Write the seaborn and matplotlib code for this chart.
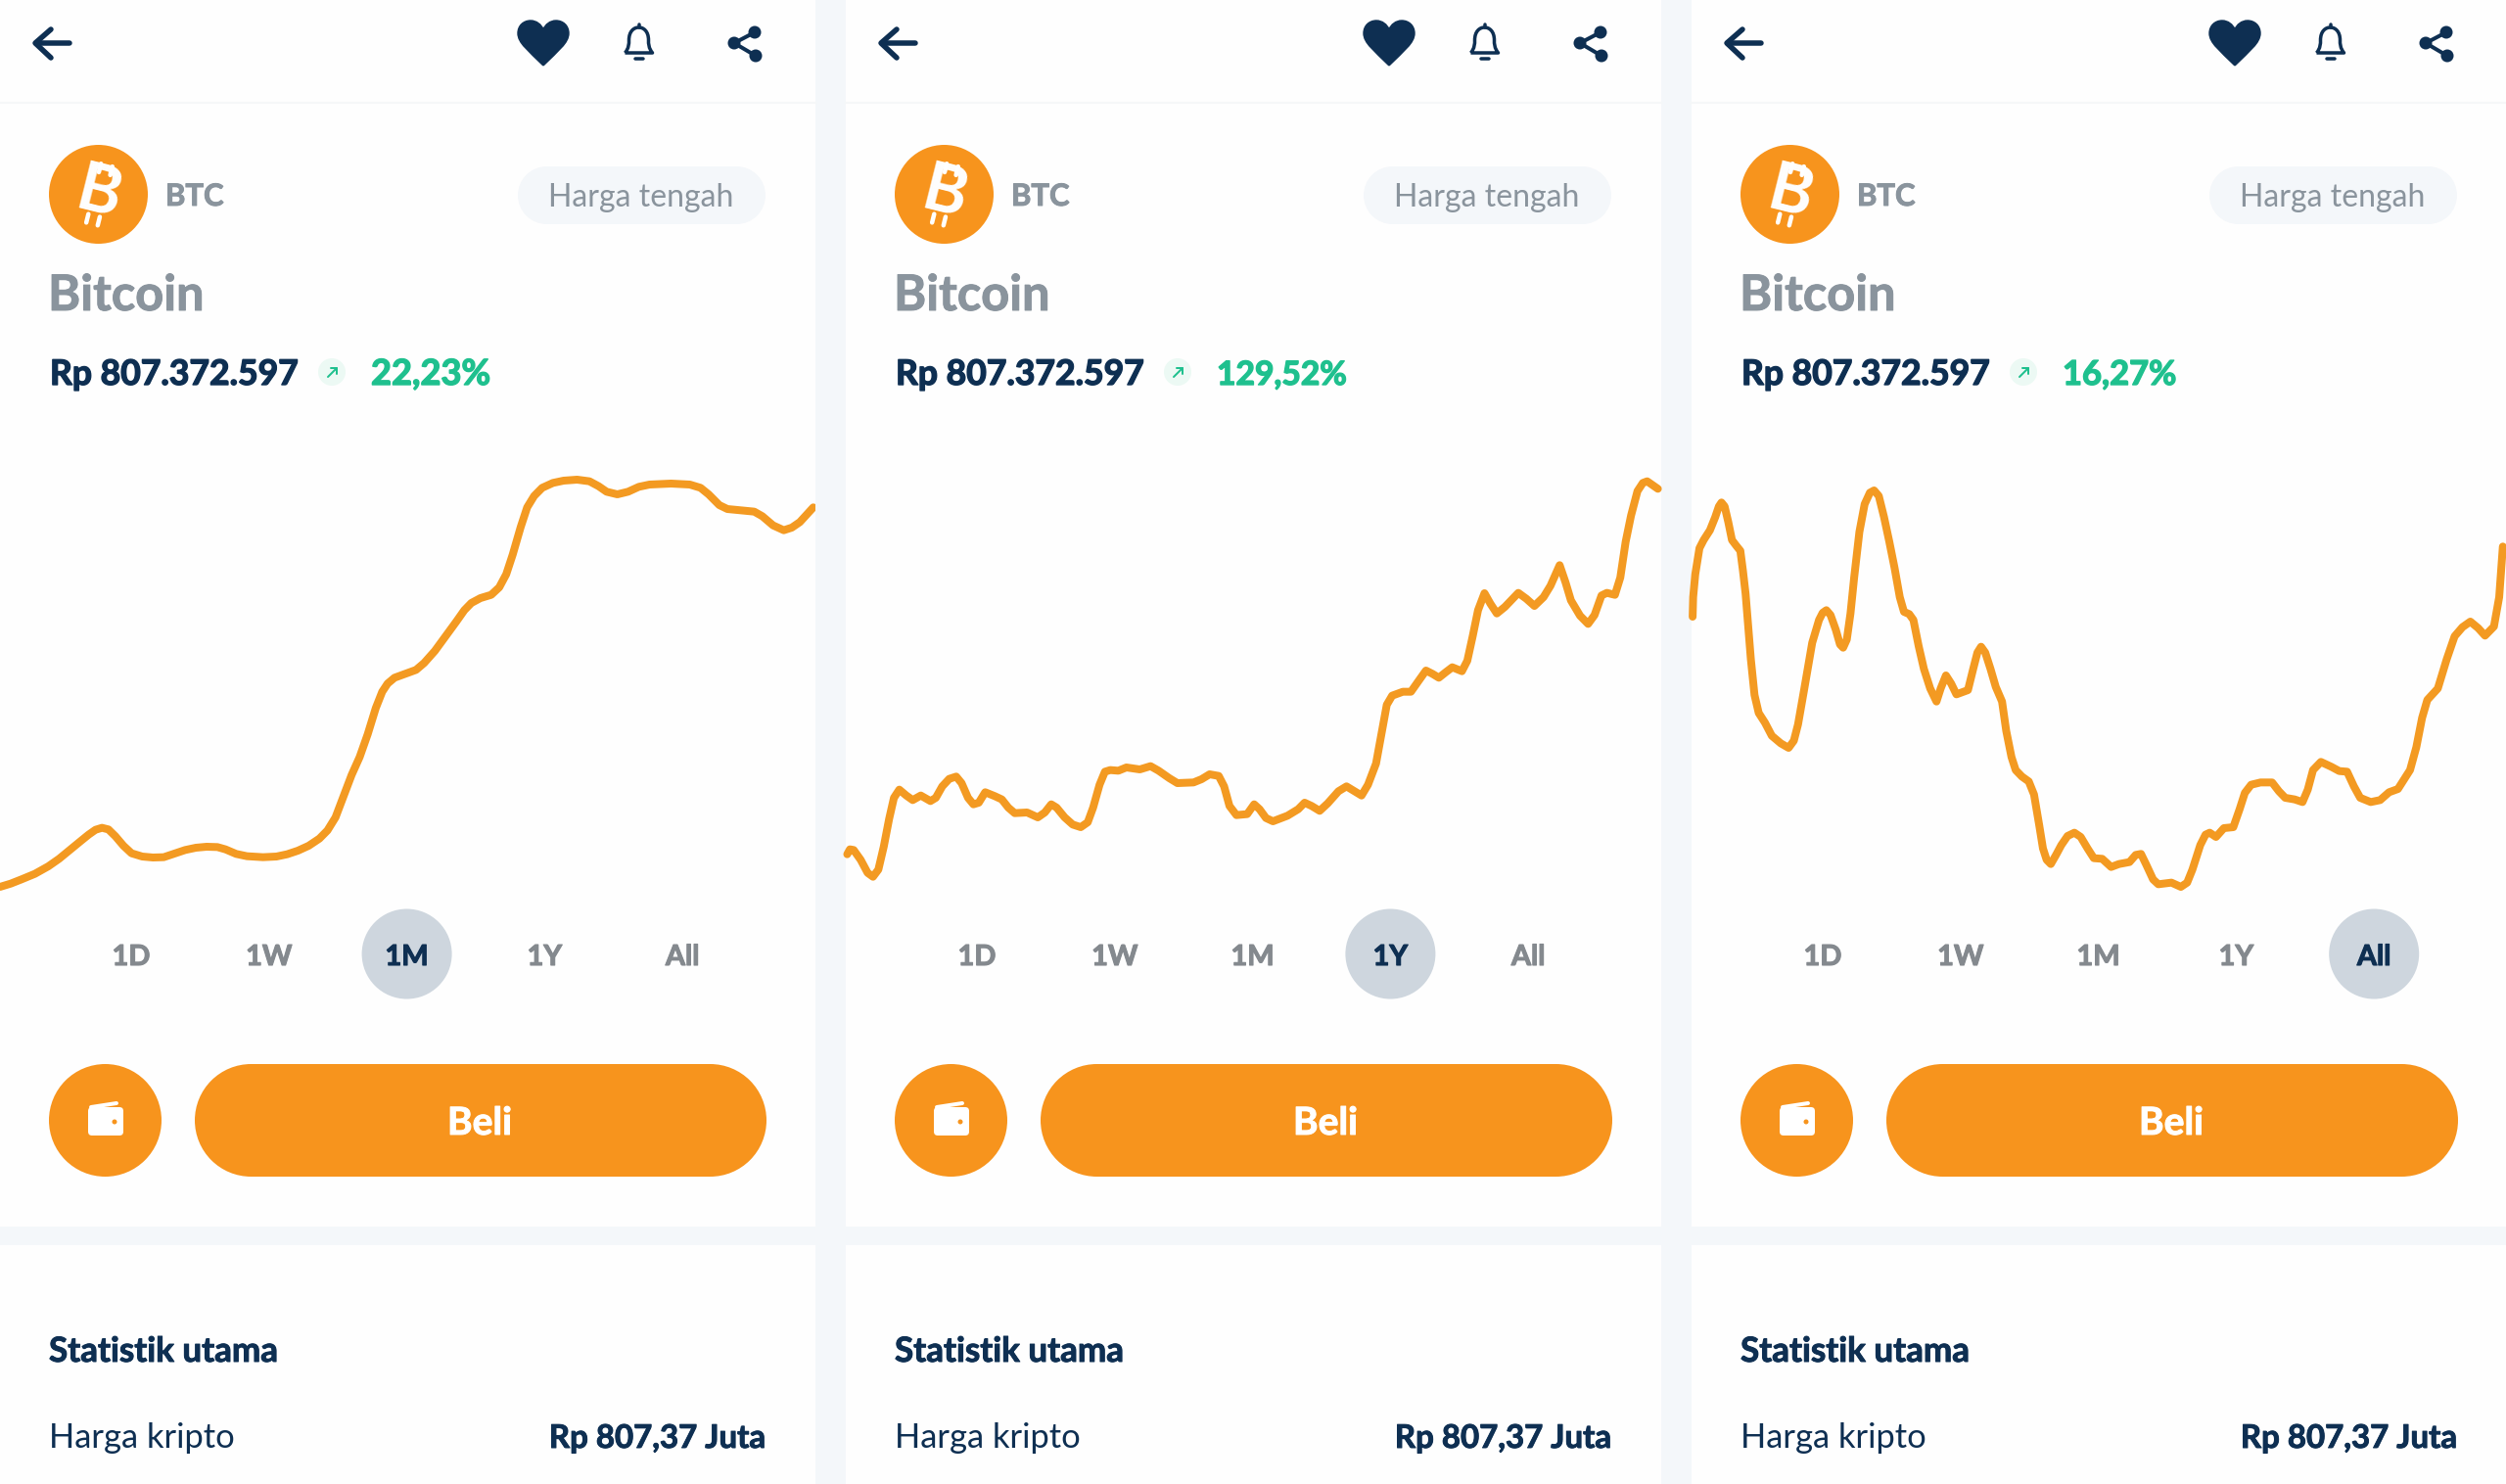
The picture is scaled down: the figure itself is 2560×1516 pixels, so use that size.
import matplotlib
matplotlib.use("Agg")
import matplotlib.pyplot as plt
import numpy as np
import pandas as pd
import seaborn as sns
import matplotlib.patheffects as pe
from matplotlib.patches import Circle, FancyBboxPatch, PathPatch, Rectangle
from matplotlib.path import Path

# x = time step, y = height on the chart
x_1m = [0, 20, 40, 65, 90, 110, 130, 150, 165, 178, 190, 202, 215, 230, 245, 265, 285, 305, 325, 345, 365, 385, 405, 420, 440,
        460, 490, 515, 535, 555, 575, 595, 610, 625, 640, 655, 670, 685, 700, 712, 722, 735, 755, 775, 790, 810, 830, 850, 865, 878,
        895, 915, 930, 943, 955, 970, 982, 995, 1010, 1030, 1050, 1075, 1098, 1115, 1130, 1150, 1170, 1190, 1210, 1250,
        1285, 1305, 1320, 1340, 1355, 1380, 1405, 1420, 1440, 1460, 1475, 1490, 1515]
y_1m = [102, 112, 125, 142, 165, 188, 215, 242, 262, 277, 283, 278, 257, 228, 205, 195, 192, 193, 204, 215, 222, 225, 224, 217, 203,
        196, 193, 195, 202, 213, 228, 250, 275, 315, 380, 445, 500, 570, 650, 700, 725, 743, 755, 767, 788, 825, 870, 915, 950, 972,
        987, 997, 1020, 1060, 1120, 1205, 1265, 1300, 1325, 1340, 1347, 1350, 1345, 1330, 1313, 1305, 1313, 1328, 1335, 1338,
        1335, 1325, 1305, 1272, 1260, 1256, 1252, 1238, 1210, 1195, 1203, 1220, 1265]

x_1y = [10, 15, 22, 35, 48, 58, 68, 78, 88, 97,
        107, 120, 132, 147, 165, 175, 187, 200, 213, 223,
        235, 245, 255, 267, 285, 298, 310, 322, 345, 365,
        378, 390, 400, 415, 430, 445, 458, 468, 480, 490,
        500, 515, 530, 555, 575, 590, 610, 625, 655, 670,
        685, 702, 712, 722, 735, 755, 768, 778, 790, 803,
        830, 850, 862, 875, 890, 905, 925, 940, 955, 968,
        980, 995, 1005, 1015, 1025, 1045, 1060, 1075, 1088, 1100,
        1112, 1125, 1137, 1155, 1165, 1175, 1185, 1197, 1208, 1220,
        1235, 1260, 1275, 1290, 1307, 1320, 1337, 1348, 1358, 1375,
        1390, 1402, 1415, 1425, 1440, 1450, 1460, 1470, 1482, 1492,
        1500, 1520]
y_1y = [202, 217, 215, 185, 145, 133, 155, 225, 310, 375,
        400, 382, 368, 382, 365, 375, 410, 433, 440, 420,
        375, 355, 360, 392, 380, 370, 345, 328, 330, 315,
        330, 355, 345, 315, 293, 285, 300, 345, 415, 455,
        460, 458, 468, 462, 472, 458, 435, 420, 422, 432,
        447, 442, 410, 350, 322, 325, 355, 340, 313, 303,
        320, 340, 360, 350, 335, 358, 395, 410, 395, 382,
        415, 480, 570, 660, 688, 700, 700, 735, 765, 755,
        743, 760, 775, 763, 795, 870, 950, 1002, 970, 940,
        960, 1003, 985, 963, 990, 1025, 1088, 1035, 980, 933,
        908, 935, 995, 1003, 997, 1050, 1160, 1240, 1315, 1340,
        1345, 1322]

x_all = [17, 18, 22, 30, 38, 50, 60, 67, 72, 78, 85, 92, 100, 108, 113, 118, 128, 135, 143, 155, 168, 185, 200, 210, 218,
         230, 245, 258, 265, 272, 280, 290, 298, 304, 311, 318, 325, 335, 345, 355, 363, 372, 382, 392, 402, 412, 420, 430,
         438, 448, 458, 470, 482, 490, 500, 510, 520, 542, 552, 560, 567, 575, 585, 595, 607, 615, 625, 633, 645, 658, 668,
         678, 685, 692, 700, 710, 720, 732, 745, 757, 770, 782, 798, 815, 830, 850, 862, 872, 882, 895, 905, 930, 948, 960,
         970, 985, 995, 1003, 1015, 1030, 1048, 1060, 1070, 1082, 1100, 1122, 1135, 1147, 1165, 1180, 1190, 1200, 1215, 1235,
         1250, 1265, 1278, 1290, 1310, 1328, 1345, 1362, 1385, 1397, 1408, 1418, 1438, 1455, 1470, 1485, 1500, 1515, 1528,
         1545, 1555, 1562]
y_all = [930, 990, 1060, 1140, 1165, 1195, 1235, 1268, 1280, 1268, 1220, 1165, 1148, 1132, 1070, 1000, 800, 690, 635, 605, 565, 542, 528, 550, 600,
         710, 850, 920, 942, 950, 935, 890, 845, 835, 860, 940, 1050, 1190, 1275, 1310, 1317, 1300, 1235, 1160, 1080, 990, 945, 938,
         920, 840, 770, 710, 670, 710, 750, 725, 692, 705, 770, 820, 838, 820, 770, 715, 670, 580, 500, 460, 440, 425, 385,
         290, 220, 185, 172, 200, 230, 258, 268, 255, 220, 190, 188, 163, 172, 178, 200, 203, 170, 125, 110, 115, 102, 115,
         155, 230, 262, 268, 255, 282, 285, 340, 390, 415, 422, 422, 395, 375, 370, 362, 400, 460, 485, 470,
         457, 455, 410, 375, 362, 368, 392, 402, 460, 530, 620, 675, 710, 800, 870, 898, 915, 895, 872,
         900, 990, 1145]

series_x = [x_1m, x_1y, x_all]
series_y = [y_1m, y_1y, y_all]
changes = ["22,23%", "129,52%", "16,27%"]
active_range = ["1M", "1Y", "All"]
ranges = ["1D", "1W", "1M", "1Y", "All"]
coin = "BTC"
coin_name = "Bitcoin"
price = "Rp 807.372.597"
price_short = "Rp 807,37 Juta"

NAVY = "#0e2f52"
ORANGE = "#f7941d"
LINE = "#f39a22"
GREY = "#8a949d"
GREEN = "#1fc08e"
PALE = "#f4f7fa"

sns.set_theme(style="white")
plt.rcParams["font.family"] = ["Lato", "DejaVu Sans"]

fig = plt.figure(figsize=(25.6, 15.16), dpi=100, facecolor=PALE)
bg = fig.add_axes([0, 0, 1, 1])
bg.set_xlim(0, 2560)
bg.set_ylim(1516, 0)
bg.axis("off")


def pt(px):
    return px * 0.72


def stroke(ax, xs, ys, lw=5.5, color=NAVY):
    ax.plot(xs, ys, color=color, lw=pt(lw), solid_capstyle="round", solid_joinstyle="round")


def curve(ax, verts, codes, **kw):
    ax.add_patch(PathPatch(Path(verts, codes), **kw))


def capsule(ax, x0, x1, y0, y1, color):
    r = (y1 - y0) / 2
    ax.add_patch(Rectangle((x0 + r, y0), x1 - x0 - 2 * r, y1 - y0, fc=color, ec="none"))
    ax.add_patch(Circle((x0 + r, y0 + r), r, fc=color, ec="none"))
    ax.add_patch(Circle((x1 - r, y0 + r), r, fc=color, ec="none"))


def heavy(ax, x, y, s, color, size, w=0.7, **kw):
    # the app font is heavier than Lato bold, thicken it a bit
    t = ax.text(x, y, s, color=color, weight="bold", fontsize=pt(size), va="baseline", **kw)
    t.set_path_effects([pe.withStroke(linewidth=w, foreground=color)])
    return t


def panel(ax, ox, change, change_size, active):
    # white cards
    ax.add_patch(Rectangle((ox, 0), 833, 1253, fc="#fefefe", ec="none"))
    ax.add_patch(Rectangle((ox, 1272), 833, 244, fc="#fefefe", ec="none"))
    ax.plot([ox, ox + 833], [105, 105], color="#f6f7f8", lw=1.5)

    # top bar
    stroke(ax, [ox + 71, ox + 37], [44, 44])
    stroke(ax, [ox + 52, ox + 36, ox + 52], [30, 44, 59])
    M, C, L = Path.MOVETO, Path.CURVE4, Path.LINETO
    hx = ox + 555
    heart = [(hx, 67), (hx - 15, 52), (hx - 26, 44), (hx - 26, 34), (hx - 26, 26), (hx - 20, 21), (hx - 13, 21),
             (hx - 7, 21), (hx - 2, 25), (hx, 30), (hx + 2, 25), (hx + 7, 21), (hx + 13, 21),
             (hx + 20, 21), (hx + 26, 26), (hx + 26, 34), (hx + 26, 44), (hx + 15, 52), (hx, 67)]
    curve(ax, heart, [M] + [C] * 18, fc=NAVY, ec=NAVY, lw=1)
    bx = ox + 652.5
    bell = [(bx - 14, 54), (bx - 10, 49), (bx - 10, 45), (bx - 10, 41), (bx - 10, 32), (bx - 5, 28), (bx, 28),
            (bx + 5, 28), (bx + 10, 32), (bx + 10, 41), (bx + 10, 45), (bx + 10, 49), (bx + 14, 54), (bx - 14, 54)]
    curve(ax, bell, [M] + [C] * 12 + [L], fc="none", ec=NAVY, lw=pt(3.5), joinstyle="round")
    stroke(ax, [bx - 4, bx + 4], [60, 60], lw=3.5)
    stroke(ax, [bx, bx], [25, 28], lw=3.5)
    sx = [ox + 771, ox + 750, ox + 772]
    sy = [33, 44, 57]
    stroke(ax, sx, sy, lw=4)
    for a, b in zip(sx, sy):
        ax.add_patch(Circle((a, b), 6.5, fc=NAVY, ec="none"))

    # coin row, the tilted B with its four little bars
    cx, cy = ox + 100.5, 198.5
    ax.add_patch(Circle((cx, cy), 50.5, fc=ORANGE, ec="none"))
    ax.text(cx, cy, "B", weight="bold", color="white", fontsize=pt(68), rotation=-14, ha="center", va="center")
    cs, sn = np.cos(np.radians(14)), np.sin(np.radians(14))
    for dx, dy0, dy1 in [(-5, -31, -22), (7, -31, -22), (-5, 22, 31), (7, 22, 31)]:
        stroke(ax, [cx + dx * cs - dy0 * sn, cx + dx * cs - dy1 * sn],
               [cy + dx * sn + dy0 * cs, cy + dx * sn + dy1 * cs], lw=4.5, color="white")
    heavy(ax, ox + 169, 210, coin, GREY, 31)
    capsule(ax, ox + 529, ox + 782, 170, 229, PALE)
    ax.text(ox + 655, 211, "Harga tengah", color=GREY, fontsize=pt(32), ha="center", va="baseline")
    heavy(ax, ox + 49, 317, coin_name, GREY, 50.5)

    # price row
    heavy(ax, ox + 51, 393, price, NAVY, 35.5, w=1.0)
    ax.add_patch(Circle((ox + 339, 380), 14, fc="#ecf9f4", ec="none"))
    stroke(ax, [ox + 335, ox + 344], [385, 376], lw=2, color=GREEN)
    stroke(ax, [ox + 338, ox + 344, ox + 344], [376, 376, 382], lw=2, color=GREEN)
    heavy(ax, ox + 379, 393, change, GREEN, change_size, w=1.0)

    # range buttons
    for i, label in enumerate(ranges):
        cx = ox + 134 + 140.8 * i
        on = label == active
        if on:
            ax.add_patch(Circle((cx, 974.5), 46, fc="#ced6de", ec="none"))
        heavy(ax, cx, 986, label, NAVY if on else "#84898e", 29, w=0.8, ha="center")

    # buy row
    ax.add_patch(Circle((ox + 107.5, 1144.5), 57.5, fc=ORANGE, ec="none"))
    capsule(ax, ox + 199, ox + 783, 1087, 1202, ORANGE)
    heavy(ax, ox + 490, 1159, "Beli", "white", 39, ha="center")
    ax.add_patch(FancyBboxPatch((ox + 90, 1131), 36, 29, boxstyle="round,pad=0,rounding_size=4", fc="white", ec="none"))
    stroke(ax, [ox + 93, ox + 119], [1131, 1127], lw=4, color="white")
    ax.add_patch(Circle((ox + 117, 1146), 2.5, fc=ORANGE, ec="none"))

    # stats
    heavy(ax, ox + 50, 1391, "Statistik utama", NAVY, 35)
    ax.text(ox + 50, 1479, "Harga kripto", color=NAVY, fontsize=pt(34.5), va="baseline")
    heavy(ax, ox + 782, 1479, price_short, NAVY, 33, ha="right")


offsets = [0, 864, 1728]
change_sizes = [36.2, 33.6, 34.5]
for off, chg, size, act in zip(offsets, changes, change_sizes, active_range):
    panel(bg, off, chg, size, act)

# price lines, each on its own axes over the card
line_boxes = [(0, 833, 1519), (860, 838, 1528), (1720, 840, 1568)]
for (left, width, xmax), xs, ys in zip(line_boxes, series_x, series_y):
    ax = fig.add_axes([left / 2560, (1516 - 940) / 1516, width / 2560, 500 / 1516])
    ax.patch.set_alpha(0)
    df = pd.DataFrame({"t": xs, "v": ys})
    sns.lineplot(data=df, x="t", y="v", ax=ax, color=LINE, linewidth=pt(8), sort=False, estimator=None,
                 solid_joinstyle="round", solid_capstyle="round")
    ax.set_xlim(0, xmax)
    ax.set_ylim(0, 1500)
    ax.axis("off")

fig.savefig("out.png", dpi=100, facecolor=fig.get_facecolor())
